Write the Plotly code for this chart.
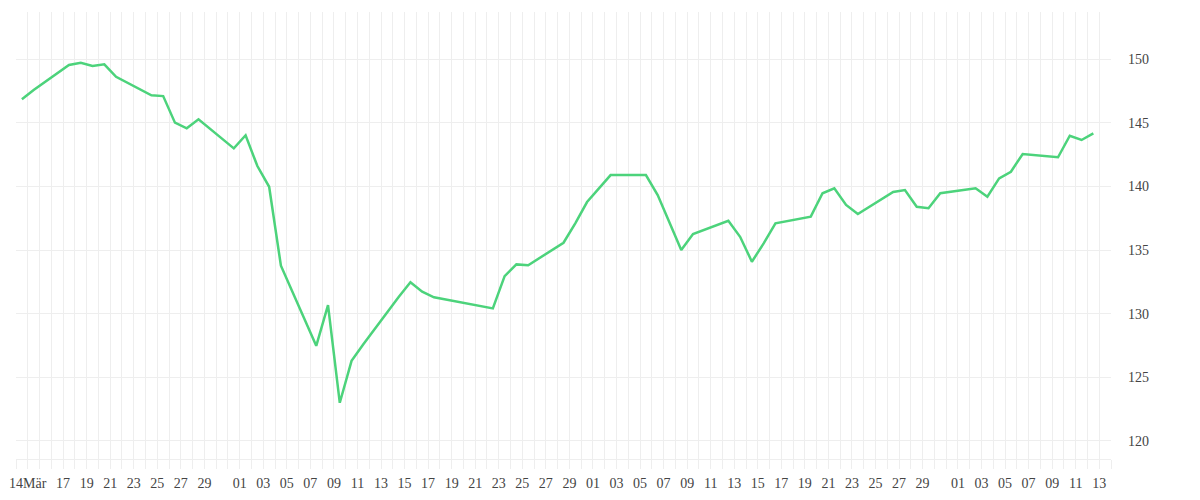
import pandas as pd
import plotly.graph_objects as go

dates = [
    "2025-03-13", "2025-03-14", "2025-03-17", "2025-03-18", "2025-03-19", "2025-03-20", "2025-03-21",
    "2025-03-24", "2025-03-25", "2025-03-26", "2025-03-27", "2025-03-28",
    "2025-03-31", "2025-04-01", "2025-04-02", "2025-04-03", "2025-04-04",
    "2025-04-07", "2025-04-08", "2025-04-09", "2025-04-10", "2025-04-11",
    "2025-04-14", "2025-04-15", "2025-04-16", "2025-04-17",
    "2025-04-22", "2025-04-23", "2025-04-24", "2025-04-25",
    "2025-04-28", "2025-04-29", "2025-04-30", "2025-05-02",
    "2025-05-05", "2025-05-06", "2025-05-07", "2025-05-08", "2025-05-09",
    "2025-05-12", "2025-05-13", "2025-05-14", "2025-05-15", "2025-05-16",
    "2025-05-19", "2025-05-20", "2025-05-21", "2025-05-22", "2025-05-23",
    "2025-05-26", "2025-05-27", "2025-05-28", "2025-05-29", "2025-05-30",
    "2025-06-02", "2025-06-03", "2025-06-04", "2025-06-05", "2025-06-06",
    "2025-06-09", "2025-06-10", "2025-06-11", "2025-06-12",
]
values = [
    146.86, 147.59, 149.55, 149.73, 149.47, 149.61, 148.63,
    147.17, 147.11, 145.02, 144.58, 145.28,
    143.00, 144.03, 141.61, 139.98, 133.77,
    127.48, 130.68, 123.00, 126.30, 127.60,
    131.32, 132.47, 131.73, 131.29,
    130.42, 132.96, 133.88, 133.81,
    135.58, 137.11, 138.78, 140.90,
    140.90, 139.33, 137.17, 135.01, 136.27,
    137.31, 136.05, 134.09, 135.53, 137.11,
    137.63, 139.47, 139.86, 138.55, 137.84,
    139.57, 139.72, 138.41, 138.29, 139.47,
    139.86, 139.20, 140.64, 141.16, 142.56,
    142.30, 143.99, 143.66, 144.18,
]

tick_dates = [
    "2025-03-14", "2025-03-17", "2025-03-19", "2025-03-21", "2025-03-23", "2025-03-25", "2025-03-27", "2025-03-29",
    "2025-04-01", "2025-04-03", "2025-04-05", "2025-04-07", "2025-04-09", "2025-04-11", "2025-04-13", "2025-04-15",
    "2025-04-17", "2025-04-19", "2025-04-21", "2025-04-23", "2025-04-25", "2025-04-27", "2025-04-29",
    "2025-05-01", "2025-05-03", "2025-05-05", "2025-05-07", "2025-05-09", "2025-05-11", "2025-05-13", "2025-05-15",
    "2025-05-17", "2025-05-19", "2025-05-21", "2025-05-23", "2025-05-25", "2025-05-27", "2025-05-29",
    "2025-06-01", "2025-06-03", "2025-06-05", "2025-06-07", "2025-06-09", "2025-06-11", "2025-06-13",
]
tick_labels = ["14Mär"] + [d[-2:] for d in tick_dates[1:]]

y_ticks = [120, 125, 130, 135, 140, 145, 150]

GRID = "#eeeeee"
LINE = "#4cd37b"
FONT = dict(family="'Liberation Serif', 'Times New Roman', serif", size=14, color="#444444")

x_vals = pd.to_datetime(dates) + pd.Timedelta(hours=12)

fig = go.Figure()
fig.add_trace(go.Scatter(
    x=x_vals, y=values, mode="lines",
    line=dict(color=LINE, width=2.5),
    showlegend=False,
))

# page body has an 8px default margin; size the figure so the plot area lands where the reference's does
fig.update_layout(
    width=1192, height=492,
    margin=dict(l=8, r=89, t=4, b=41, autoexpand=False),
    paper_bgcolor="white", plot_bgcolor="white",
    font=FONT,
    xaxis=dict(
        type="date",
        automargin=False,
        range=["2025-03-13", "2025-06-14"],
        tickvals=tick_dates, ticktext=tick_labels,
        showgrid=True, gridcolor=GRID, gridwidth=1,
        ticks="outside", ticklen=9, tickcolor=GRID, tickwidth=1,
        showline=True, linecolor=GRID, linewidth=1,
        zeroline=False,
        tickangle=0,
        tickfont=FONT,
        ticklabelstandoff=2,
        minor=dict(dtick=86400000, tick0="2025-03-13", showgrid=True, gridcolor=GRID,
                   ticks="outside", ticklen=9, tickcolor=GRID),
    ),
    yaxis=dict(
        side="right",
        automargin=False,
        range=[118.58, 153.72],
        tickvals=y_ticks,
        showgrid=True, gridcolor=GRID, gridwidth=1,
        ticks="", zeroline=False, showline=False,
        tickfont=FONT,
        ticklabelstandoff=16,
    ),
)

fig.write_html("out.html")
